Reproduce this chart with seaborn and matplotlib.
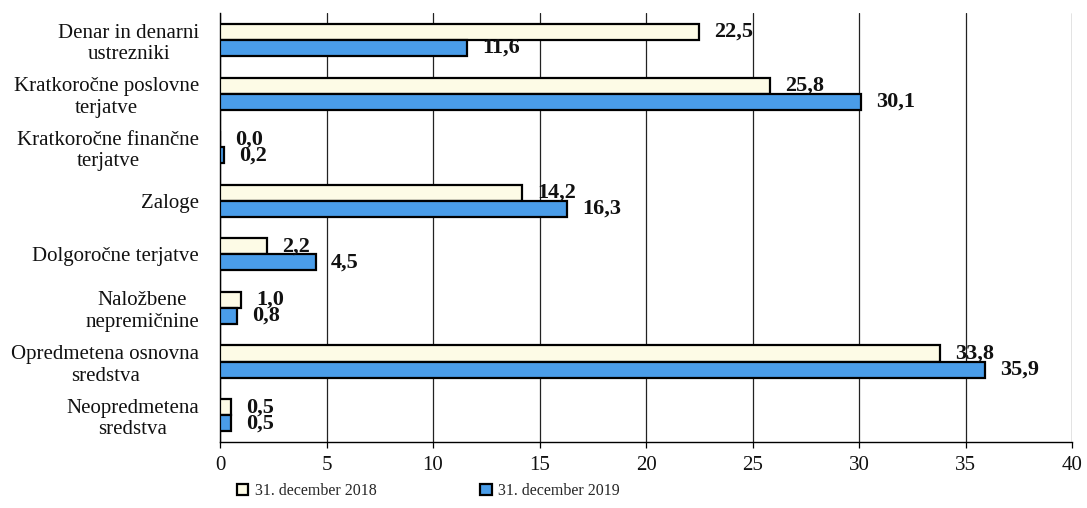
import matplotlib
matplotlib.use("Agg")
import matplotlib.pyplot as plt
from matplotlib.ticker import FixedLocator
import seaborn as sns
import pandas as pd

categories = [
    "Denar in denarni\nustrezniki",
    "Kratkoročne poslovne\nterjatve",
    "Kratkoročne finančne\nterjatve",
    "Zaloge",
    "Dolgoročne terjatve",
    "Naložbene\nnepremičnine",
    "Opredmetena osnovna\nsredstva",
    "Neopredmetena\nsredstva",
]
series_names = ["31. december 2018", "31. december 2019"]
values_2018 = [22.5, 25.8, 0.0, 14.2, 2.2, 1.0, 33.8, 0.5]
values_2019 = [11.6, 30.1, 0.2, 16.3, 4.5, 0.8, 35.9, 0.5]
x_ticks = [0, 5, 10, 15, 20, 25, 30, 35, 40]

df = pd.DataFrame({
    "kategorija": categories * 2,
    "obdobje": [series_names[0]] * len(categories) + [series_names[1]] * len(categories),
    "vrednost": values_2018 + values_2019,
})

sns.set_theme(style="white")
plt.rcParams["font.family"] = ["Liberation Serif", "DejaVu Serif"]

colors = {series_names[0]: "#fdfbe6", series_names[1]: "#4a9de9"}

fig = plt.figure(figsize=(10.87, 5.08), dpi=100)
ax = fig.add_axes([0.2024, 0.130, 0.7838, 0.844])

sns.barplot(
    data=df, x="vrednost", y="kategorija", hue="obdobje",
    order=categories, hue_order=series_names, palette=colors, saturation=1,
    orient="h", width=0.6, edgecolor="black", linewidth=1.6,
    ax=ax, legend=False, errorbar=None, zorder=3,
)

# value labels in Slovenian decimal format
for cont in ax.containers:
    labels = [f"{v:.1f}".replace(".", ",") for v in cont.datavalues]
    ax.bar_label(cont, labels=labels, padding=11, fontsize=16,
                 fontweight="bold", color="#111111")

ax.set_xlim(0, 40)
ax.set_ylim(len(categories) - 0.5, -0.5)
ax.xaxis.set_major_locator(FixedLocator(x_ticks))
ax.set_xticklabels([str(t) for t in x_ticks], fontsize=15, color="#111111")
ax.grid(axis="x", color="#222222", linewidth=0.9, zorder=0)
ax.grid(axis="y", visible=False)

ax.set_xlabel("")
ax.set_ylabel("")
ax.tick_params(axis="y", which="major", length=0, pad=15, labelsize=15, labelcolor="#111111")
ax.yaxis.set_minor_locator(FixedLocator([i - 0.5 for i in range(len(categories) + 1)]))
ax.tick_params(axis="y", which="minor", length=6, width=1, color="black", direction="out")
ax.tick_params(axis="x", which="major", length=4, width=0.9, color="black",
               direction="out", pad=6, bottom=True)
for lbl in ax.get_yticklabels():
    lbl.set_linespacing(1.2)
    lbl.set_multialignment("center")

for side in ["top", "right"]:
    ax.spines[side].set_visible(False)
for side in ["left", "bottom"]:
    ax.spines[side].set_color("black")
    ax.spines[side].set_linewidth(1.0)

handles = [plt.Rectangle((0, 0), 1, 1, facecolor=colors[s], edgecolor="black", linewidth=1.6)
           for s in series_names]
fig.legend(handles, series_names, loc="lower left", bbox_to_anchor=(0.205, -0.01),
           ncol=2, frameon=False, fontsize=11.5, handlelength=0.7, handleheight=0.7,
           handletextpad=0.4, columnspacing=6.5)

fig.savefig("out.png", dpi=100)
